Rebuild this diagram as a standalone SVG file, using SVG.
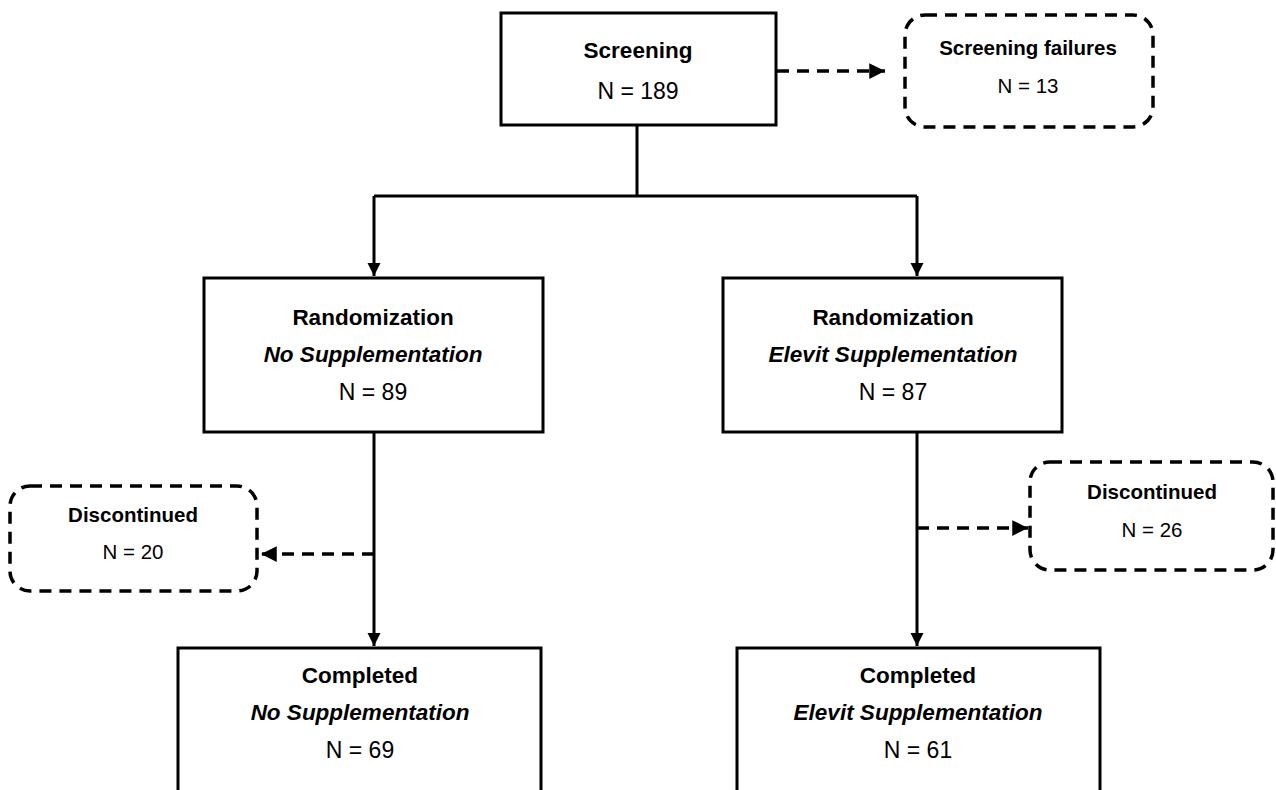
<svg xmlns="http://www.w3.org/2000/svg" width="1276" height="790" viewBox="0 0 1276 790">
<defs>
<marker id="ah" viewBox="0 0 10 10" refX="10" refY="5" markerWidth="4.5" markerHeight="4.5" orient="auto" markerUnits="strokeWidth">
<path d="M0,0 L10,5 L0,10 z" fill="#000"/>
</marker>
<style>
.box{fill:#fff;stroke:#000;stroke-width:3}
.dbox{fill:#fff;stroke:#000;stroke-width:3.5;stroke-dasharray:12 8}
.ln{fill:none;stroke:#000;stroke-width:3}
.dln{fill:none;stroke:#000;stroke-width:3.5;stroke-dasharray:12 8}
text{font-family:"Liberation Sans",Arial,sans-serif;fill:#000;text-anchor:middle}
.t{font-size:22.5px;font-weight:bold}
.i{font-size:22.5px;font-weight:bold;font-style:italic}
.n{font-size:23px}
.st{font-size:20.5px;font-weight:bold}
.sn{font-size:20.5px}
</style>
</defs>
<rect width="1276" height="790" fill="#fff"/>
<g id="connectors">
<path class="ln" d="M637,125 V196 M374,196 H917"/>
<path class="ln" d="M374,196 V276" marker-end="url(#ah)"/>
<path class="ln" d="M917,196 V276" marker-end="url(#ah)"/>
<path class="dln" d="M777,71 H885" marker-end="url(#ah)"/>
<path class="ln" d="M374,432 V646" marker-end="url(#ah)"/>
<path class="ln" d="M917,432 V646" marker-end="url(#ah)"/>
<path class="dln" d="M374,554 H261" marker-end="url(#ah)"/>
<path class="dln" d="M917,528 H1028" marker-end="url(#ah)"/>
</g>
<g id="screening">
<rect class="box" x="501" y="13" width="275" height="112"/>
<text class="t" x="638" y="58">Screening</text>
<text class="n" x="638" y="99">N = 189</text>
</g>
<g id="screening-failures">
<rect class="dbox" x="905" y="15" width="248" height="112" rx="20"/>
<text class="st" x="1028" y="55">Screening failures</text>
<text class="sn" x="1028" y="93">N = 13</text>
</g>
<g id="rand-no">
<rect class="box" x="204" y="278" width="339" height="154"/>
<text class="t" x="373" y="325">Randomization</text>
<text class="i" x="373" y="362">No Supplementation</text>
<text class="n" x="373" y="400">N = 89</text>
</g>
<g id="rand-elevit">
<rect class="box" x="723" y="278" width="339" height="154"/>
<text class="t" x="893" y="325">Randomization</text>
<text class="i" x="893" y="362">Elevit Supplementation</text>
<text class="n" x="893" y="400">N = 87</text>
</g>
<g id="disc-no">
<rect class="dbox" x="10" y="486" width="247" height="105" rx="20"/>
<text class="st" x="133" y="522">Discontinued</text>
<text class="sn" x="133" y="559">N = 20</text>
</g>
<g id="disc-elevit">
<rect class="dbox" x="1030" y="462" width="243" height="108" rx="20"/>
<text class="st" x="1152" y="499">Discontinued</text>
<text class="sn" x="1152" y="537">N = 26</text>
</g>
<g id="comp-no">
<rect class="box" x="178" y="648" width="363" height="160"/>
<text class="t" x="360" y="683">Completed</text>
<text class="i" x="360" y="720">No Supplementation</text>
<text class="n" x="360" y="758">N = 69</text>
</g>
<g id="comp-elevit">
<rect class="box" x="737" y="648" width="363" height="160"/>
<text class="t" x="918" y="683">Completed</text>
<text class="i" x="918" y="720">Elevit Supplementation</text>
<text class="n" x="918" y="758">N = 61</text>
</g>
</svg>
